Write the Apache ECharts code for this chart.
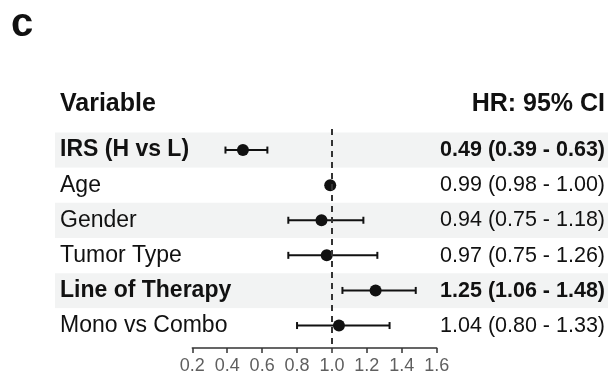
<!DOCTYPE html>
<html><head><meta charset="utf-8">
<script src="https://cdn.jsdelivr.net/npm/echarts@6/dist/echarts.min.js"></script>
<style>html,body{margin:0;padding:0;background:#fff}#c{width:616px;height:375px}</style>
</head><body><div id="c"></div>
<script>
const variables = ['IRS (H vs L)', 'Age', 'Gender', 'Tumor Type', 'Line of Therapy', 'Mono vs Combo'];
const hr = [0.49, 0.99, 0.94, 0.97, 1.25, 1.04];
const ciLow = [0.39, 0.98, 0.75, 0.75, 1.06, 0.80];
const ciHigh = [0.63, 1.00, 1.18, 1.26, 1.48, 1.33];
const boldRows = [true, false, false, false, true, false];
const xTickLabels = ['0.2', '0.4', '0.6', '0.8', '1.0', '1.2', '1.4', '1.6'];
const refLine = 1.0;

const FONT = '"Liberation Sans", Arial, Helvetica, sans-serif';
const rowIdx = variables.map((_, i) => i);
const hrText = hr.map((v, i) => `${v.toFixed(2)} (${ciLow[i].toFixed(2)} - ${ciHigh[i].toFixed(2)})`);
const xMin = parseFloat(xTickLabels[0]);
const xMax = parseFloat(xTickLabels[xTickLabels.length - 1]);
const xInt = parseFloat(xTickLabels[1]) - xMin;

const mkFmt = () => (v, i) => boldRows[i] ? `{b|${v}}` : `{n|${v}}`;
const mkRich = (fs) => ({
  b: { fontSize: fs, fontWeight: 'bold', color: '#111', fontFamily: FONT },
  n: { fontSize: fs, color: '#111', fontFamily: FONT }
});

const chart = echarts.init(document.getElementById('c'));
chart.setOption({
  animation: false,
  backgroundColor: '#fff',
  textStyle: { fontFamily: FONT },
  title: [
    { text: 'c', left: 11, top: 5, padding: 0, textStyle: { fontSize: 40, fontWeight: 'bold', color: '#111', fontFamily: FONT } },
    { text: 'Variable', left: 60, top: 92, padding: 0, textStyle: { fontSize: 25, fontWeight: 'bold', color: '#111', fontFamily: FONT } },
    { text: 'HR: 95% CI', right: 11, top: 92, padding: 0, textStyle: { fontSize: 25, fontWeight: 'bold', color: '#111', fontFamily: FONT } }
  ],
  grid: [
    { left: 55, right: 8, top: 132.5, height: 211 },
    { left: 192.3, right: 179.3, top: 129, bottom: 26.5 }
  ],
  xAxis: [
    { gridIndex: 0, type: 'value', show: false, min: 0, max: 1 },
    {
      gridIndex: 1, type: 'value', min: xMin, max: xMax, interval: xInt, position: 'bottom',
      axisLine: { show: true, onZero: false, lineStyle: { color: '#333', width: 1.5 } },
      axisTick: { show: true, length: 5, lineStyle: { color: '#333', width: 1.5 } },
      axisLabel: { margin: 9, fontSize: 18, color: '#5f5f5f', fontFamily: FONT, formatter: v => v.toFixed(1) },
      splitLine: { show: false }
    }
  ],
  yAxis: [
    {
      gridIndex: 0, type: 'category', data: variables, inverse: true,
      axisLine: { show: false }, axisTick: { show: false }, splitLine: { show: false },
      splitArea: { show: true, areaStyle: { color: ['#f2f3f3', '#ffffff'] } },
      axisLabel: { inside: true, margin: 5, align: 'left', interval: 0, formatter: mkFmt(), rich: mkRich(23) }
    },
    {
      gridIndex: 0, type: 'category', data: hrText, inverse: true, position: 'right',
      axisLine: { show: false }, axisTick: { show: false }, splitLine: { show: false }, splitArea: { show: false },
      axisLabel: { inside: true, margin: 3, align: 'right', interval: 0, formatter: mkFmt(), rich: mkRich(21.5) }
    },
    { gridIndex: 1, type: 'value', min: -0.6, max: 5.64, inverse: true, show: false }
  ],
  series: [
    {
      type: 'custom', xAxisIndex: 1, yAxisIndex: 2, z: 2,
      data: rowIdx.map(i => [ciLow[i], ciHigh[i], i]),
      encode: { x: [0, 1], y: 2 },
      renderItem: (params, api) => {
        const lo = api.coord([api.value(0), api.value(2)]);
        const hi = api.coord([api.value(1), api.value(2)]);
        const h = 3.5;
        const st = { stroke: '#111', lineWidth: 2 };
        return {
          type: 'group', children: [
            { type: 'line', shape: { x1: lo[0], y1: lo[1], x2: hi[0], y2: hi[1] }, style: st },
            { type: 'line', shape: { x1: lo[0], y1: lo[1] - h, x2: lo[0], y2: lo[1] + h }, style: st },
            { type: 'line', shape: { x1: hi[0], y1: hi[1] - h, x2: hi[0], y2: hi[1] + h }, style: st }
          ]
        };
      },
      markLine: {
        silent: true, symbol: 'none', label: { show: false },
        lineStyle: { type: [6, 5], color: '#333', width: 2 },
        data: [{ xAxis: refLine }]
      }
    },
    {
      type: 'scatter', xAxisIndex: 1, yAxisIndex: 2, z: 3,
      data: rowIdx.map(i => [hr[i], i]),
      symbolSize: 12,
      itemStyle: { color: '#111', opacity: 1 }
    }
  ]
});
</script>
</body></html>
